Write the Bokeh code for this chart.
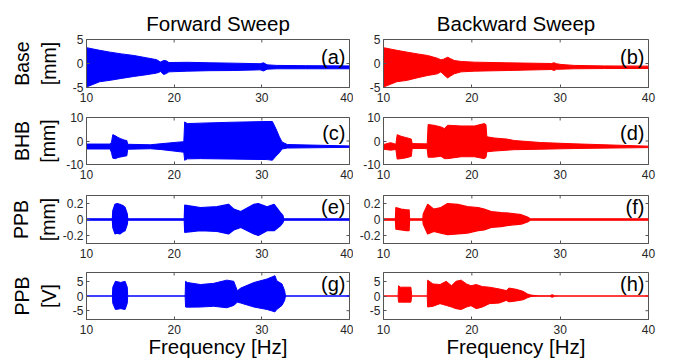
import numpy as np
from bokeh.plotting import figure
from bokeh.layouts import column, row
from bokeh.models import FixedTicker, LinearAxis, Label, Range1d
from bokeh.embed import file_html
from bokeh.resources import INLINE

# ---------------- data (envelopes) ----------------
x_ticks = [10, 20, 30, 40]
x_tick_labels = ["10", "20", "30", "40"]

base_ticks = [-5, 0, 5]
base_tick_labels = ["-5", "0", "5"]
bhb_ticks = [-10, 0, 10]
bhb_tick_labels = ["-10", "0", "10"]
ppbmm_ticks = [-0.2, 0, 0.2]
ppbmm_tick_labels = ["-0.2", "0", "0.2"]
ppbv_ticks = [-5, 0, 5]
ppbv_tick_labels = ["-5", "0", "5"]

# (a) Base, forward
a_f = [10, 11.5, 12.7, 14, 15.4, 16.8, 18.0, 18.3, 18.45, 18.8, 19.1, 19.4, 21.5, 24, 26.8, 29.8, 30.2, 30.6, 31.7, 35, 40]
a_up = [3.3, 2.75, 2.36, 2.0, 1.67, 1.2, 0.8, 0.45, 0.3, 0.63, 0.55, 0.2, 0.25, 0.15, 0.07, -0.05, 0.14, -0.28, -0.4, -0.45, -0.5]
a_lo = [-4.9, -3.8, -3.5, -3.1, -2.7, -2.35, -2.0, -1.8, -1.67, -2.3, -2.1, -1.74, -1.6, -1.5, -1.46, -1.32, -1.55, -1.18, -1.1, -1.1, -1.1]

# (b) Base, backward
b_f = [10, 11.5, 12.7, 14, 15, 16.1, 16.5, 16.8, 17.25, 17.6, 18.0, 18.8, 20.3, 24, 29.0, 29.3, 29.6, 30.1, 31.6, 35, 40]
b_up = [3.3, 2.75, 2.36, 1.95, 1.67, 1.1, 0.76, 0.9, 1.3, 1.0, 0.63, 0.42, 0.28, 0.14, 0.0, 0.15, -0.05, -0.2, -0.4, -0.5, -0.55]
b_lo = [-4.9, -3.8, -3.5, -2.9, -2.5, -2.15, -1.74, -2.3, -3.0, -2.6, -2.15, -1.74, -1.6, -1.46, -1.25, -1.45, -1.2, -1.18, -1.1, -1.05, -1.04]

# (c) BHB, forward
c_f = [10, 12.7, 12.85, 13.0, 13.3, 13.6, 13.9, 14.3, 14.6, 14.7, 17.3, 18.4, 20.7, 21.1, 21.2, 21.5, 23, 26.8, 30.6, 31.2, 31.6, 32.0, 32.3, 32.9, 40]
c_up = [-1.3, -1.3, -0.5, 2.7, 2.2, 1.5, 1.0, 0.4, 0.2, -1.4, -1.6, -1.2, -0.4, -0.3, 8.1, 7.4, 7.6, 8.0, 8.3, 8.3, 5.3, 1.8, -0.4, -1.5, -2.1]
c_lo = [-3.4, -3.4, -5.0, -7.3, -7.5, -7.0, -6.8, -6.5, -6.3, -3.5, -3.3, -3.6, -4.6, -4.8, -8.2, -7.6, -7.5, -7.7, -7.9, -8.2, -6.5, -5.0, -3.4, -3.0, -2.7]

# (d) BHB, backward
d_f = [10, 10.8, 11.4, 11.55, 12.0, 12.5, 13.0, 13.15, 13.25, 14.6, 14.95, 15.05, 15.7, 16.5, 16.9, 17.25, 18.8, 20.3, 21.4, 21.6, 21.7, 22.5, 24, 24.8, 27.8, 31.6, 40]
d_up = [-1.5, -0.7, -1.4, 2.7, 2.0, 1.5, 1.0, 0.8, -1.1, -1.2, -1.2, 7.0, 6.7, 6.0, 5.3, 6.7, 6.4, 6.4, 7.4, 7.0, 1.8, 1.3, 0.8, 0.2, -0.65, -1.2, -2.2]
d_lo = [-3.5, -3.9, -3.6, -7.7, -7.5, -7.2, -6.7, -6.5, -3.2, -3.2, -3.3, -6.9, -6.9, -6.5, -7.5, -7.5, -6.7, -6.7, -7.5, -7.0, -4.6, -4.3, -3.9, -3.7, -3.5, -3.2, -2.8]

# (e) PPB [mm], forward
e_f = [10, 12.95, 13.0, 13.25, 13.5, 13.8, 14.2, 14.4, 14.65, 14.7, 21.15, 21.2, 23, 24.9, 26.2, 26.8, 27.6, 29.1, 29.6, 30.6, 31.4, 32.1, 32.4, 32.5, 40]
e_up = [0.008, 0.008, 0.11, 0.19, 0.2, 0.19, 0.17, 0.15, 0.07, 0.008, 0.008, 0.18, 0.15, 0.16, 0.19, 0.13, 0.10, 0.19, 0.2, 0.16, 0.19, 0.09, 0.05, 0.008, 0.008]
e_lo = [-0.008, -0.008, -0.1, -0.18, -0.17, -0.18, -0.15, -0.14, -0.06, -0.008, -0.008, -0.16, -0.14, -0.15, -0.18, -0.13, -0.10, -0.18, -0.2, -0.14, -0.14, -0.08, -0.04, -0.008, -0.008]

# (f) PPB [mm], backward
f_f = [10, 11.35, 11.4, 12.0, 12.6, 12.9, 12.95, 14.45, 14.5, 15.0, 15.7, 16.5, 17.25, 18.4, 19.5, 20.7, 21.4, 22.2, 23.3, 24.4, 25.6, 26.3, 26.6, 40]
f_up = [0.008, 0.008, 0.15, 0.13, 0.12, 0.12, 0.008, 0.008, 0.07, 0.19, 0.13, 0.15, 0.2, 0.19, 0.16, 0.15, 0.13, 0.10, 0.086, 0.078, 0.06, 0.03, 0.008, 0.008]
f_lo = [-0.008, -0.008, -0.12, -0.13, -0.14, -0.14, -0.008, -0.008, -0.06, -0.18, -0.15, -0.17, -0.19, -0.18, -0.17, -0.14, -0.13, -0.10, -0.09, -0.07, -0.057, -0.03, -0.008, -0.008]

# (g) PPB [V], forward
g_f = [10, 12.95, 13.0, 13.3, 13.9, 14.4, 14.65, 14.7, 21.25, 21.3, 21.5, 23, 24.5, 26, 26.8, 27.2, 27.6, 29.1, 30.6, 31.5, 31.7, 32.3, 32.6, 32.7, 40]
g_up = [0, 0, 3.0, 5.0, 4.6, 5.0, 3.0, 0, 0, 5.0, 4.6, 3.9, 4.3, 5.4, 5.0, 1.8, 2.7, 4.6, 5.8, 6.9, 5.2, 4.1, 1.8, 0, 0]
g_lo = [0, 0, -2.5, -4.6, -4.3, -4.6, -2.5, 0, 0, -3.75, -3.8, -3.75, -3.5, -4.0, -3.2, -2.1, -2.4, -3.75, -4.6, -5.4, -4.6, -3.2, -1.5, 0, 0]

# (h) PPB [V], backward
h_f = [10, 11.65, 11.7, 11.9, 13.1, 13.2, 14.95, 15.0, 15.6, 16.4, 17.1, 17.7, 18.2, 18.8, 19.4, 19.9, 20.5, 21.2, 22, 23.1, 23.9, 24.2, 25, 25.8, 26.3, 26.7, 27.6, 28.8, 29.1, 29.4, 30, 40]
h_up = [0, 0, 3.5, 3.0, 3.0, 0, 0, 5.4, 4.1, 3.9, 5.0, 3.5, 5.0, 5.4, 4.1, 3.5, 3.9, 3.2, 3.0, 2.4, 1.85, 2.7, 2.3, 1.6, 0.7, 0.3, 0.05, 0.05, 0.45, 0.05, 0, 0]
h_lo = [0, 0, -2.1, -2.1, -2.1, 0, 0, -3.75, -3.5, -2.6, -3.2, -3.75, -4.3, -4.6, -3.75, -3.3, -4.3, -3.75, -2.6, -2.4, -1.5, -2.0, -1.7, -1.3, -0.6, -0.17, -0.05, -0.05, -0.45, -0.05, 0, 0]

# ---------------- styling / layout ----------------
FONT = "Liberation Sans"
BLUE = "#0000FF"
RED = "#FF0000"
AXC = "#555555"
TXT = "#262626"

LEFT_W, RIGHT_W = 353, 330
rows_cfg = [
    dict(h=109, t=39, b=22, yr=(-5, 5), ticks=base_ticks, tl=base_tick_labels, yl="Base\n[mm]", so=10, lo=17),
    dict(h=77, t=8, b=22, yr=(-10, 10), ticks=bhb_ticks, tl=bhb_tick_labels, yl="BHB\n[mm]", so=4, lo=15),
    dict(h=79, t=9, b=22, yr=(-0.3, 0.3), ticks=ppbmm_ticks, tl=ppbmm_tick_labels, yl="PPB\n[mm]", so=1, lo=11),
    dict(h=97, t=7, b=43, yr=(-8, 8), ticks=ppbv_ticks, tl=ppbv_tick_labels, yl="PPB\n[V]", so=10, lo=11),
]
data = [
    ((a_f, a_up, a_lo), (b_f, b_up, b_lo)),
    ((c_f, c_up, c_lo), (d_f, d_up, d_lo)),
    ((e_f, e_up, e_lo), (f_f, f_up, f_lo)),
    ((g_f, g_up, g_lo), (h_f, h_up, h_lo)),
]
letters = [("(a)", "(b)"), ("(c)", "(d)"), ("(e)", "(f)"), ("(g)", "(h)")]
titles = ["Forward Sweep", "Backward Sweep"]
line_w = [1, 1, 1.2, 1]


def style_axis(ax, ticks, labels):
    ax.ticker = FixedTicker(ticks=ticks)
    ax.major_label_overrides = {t: l for t, l in zip(ticks, labels)}
    ax.axis_line_color = AXC
    ax.major_tick_line_color = AXC
    ax.major_tick_in = 3
    ax.major_tick_out = 0
    ax.minor_tick_line_color = None
    ax.major_label_text_font = FONT
    ax.major_label_text_color = TXT
    ax.major_label_text_font_size = "12px"


def panel(ri, ci):
    cfg = rows_cfg[ri]
    f, up, lo = data[ri][ci]
    color = BLUE if ci == 0 else RED
    left = ci == 0
    y0, y1 = cfg["yr"]
    p = figure(
        width=LEFT_W if left else RIGHT_W,
        height=cfg["h"],
        x_range=Range1d(10, 40),
        y_range=Range1d(y0, y1),
        toolbar_location=None,
        output_backend="svg",
        min_border_left=86 if left else 30,
        min_border_right=4 if left else 35,
        min_border_top=cfg["t"],
        min_border_bottom=cfg["b"],
        x_axis_location=None,
        y_axis_location=None,
    )
    p.grid.visible = False
    p.outline_line_color = AXC
    p.outline_line_width = 1
    p.background_fill_color = "white"
    p.border_fill_color = "white"

    xb = LinearAxis()
    style_axis(xb, x_ticks, x_tick_labels)
    xb.major_label_standoff = 5
    if ri == 3:
        xb.axis_label = "Frequency [Hz]"
        xb.axis_label_text_font = FONT
        xb.axis_label_text_font_style = "normal"
        xb.axis_label_text_font_size = "20.5px"
        xb.axis_label_text_color = "black"
        xb.axis_label_standoff = -2
    p.add_layout(xb, "below")

    yl = LinearAxis()
    style_axis(yl, cfg["ticks"], cfg["tl"])
    yl.major_label_standoff = 3
    if left:
        yl.axis_label = cfg["yl"]
        yl.axis_label_text_font = FONT
        yl.axis_label_text_font_style = "normal"
        yl.axis_label_text_font_size = "19.5px"
        yl.axis_label_text_color = "black"
        yl.axis_label_standoff = cfg["so"]
    p.add_layout(yl, "left")

    # inward tick marks on the top and right edges of the box (MATLAB style)
    p.scatter(x=x_ticks, y=[y1] * len(x_ticks), marker="dash", angle=np.pi / 2,
              size=6, line_color=AXC, line_width=1)
    p.scatter(x=[40] * len(cfg["ticks"]), y=cfg["ticks"], marker="dash",
              size=6, line_color=AXC, line_width=1)

    p.varea(x=f, y1=lo, y2=up, fill_color=color)
    p.line(f, up, line_color=color, line_width=line_w[ri])
    p.line(f, lo, line_color=color, line_width=line_w[ri])

    p.add_layout(Label(x=40, y=y1, text=letters[ri][ci], text_align="right",
                       text_baseline="middle", x_offset=-4, y_offset=-cfg["lo"],
                       text_font=FONT, text_font_size="20px", text_color="black"))

    if ri == 0:
        p.title.text = titles[ci]
        p.title.align = "center"
        p.title.text_font = FONT
        p.title.text_font_style = "normal"
        p.title.text_font_size = "20.5px"
        p.title.text_color = "black"
        p.title.standoff = 9
    return p


layout = column(*[row(panel(r, 0), panel(r, 1)) for r in range(4)])
open("out.html", "w").write(file_html(layout, INLINE))
